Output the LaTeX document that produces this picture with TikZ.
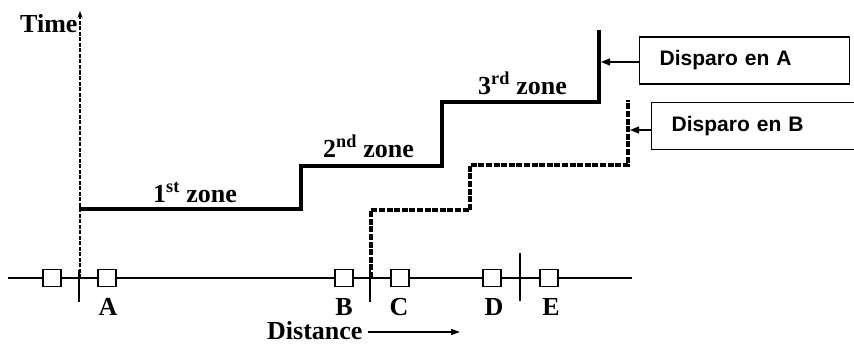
\documentclass[tikz,border=0pt]{standalone}
\usepackage{fontspec}
\setmainfont{Liberation Serif}
\setsansfont{Liberation Sans}
\usetikzlibrary{arrows.meta}
\begin{document}
\begin{tikzpicture}[x=1pt,y=-1pt,
  lbl/.style={font=\fontsize{26}{30}\selectfont\bfseries, inner sep=0pt},
  axisline/.style={line width=1.8pt},
  tickline/.style={line width=1.8pt},
  timeaxis/.style={line width=1.6pt, dash pattern=on 4pt off 1.5pt},
  stepA/.style={line width=3.8pt, line join=miter, line cap=butt},
  stepB/.style={line width=3.8pt, line join=miter, dash pattern=on 6pt off 1.6pt},
  sq/.style={draw, line width=1.8pt, fill=white, minimum width=18pt, minimum height=17pt, inner sep=0pt},
  dispbox/.style={draw, line width=1.4pt, font=\sffamily\bfseries\fontsize{21}{25}\selectfont,
     align=left, inner xsep=20pt, anchor=west, minimum height=47pt},
  ptr/.style={line width=1.2pt, -{Triangle[length=9pt,width=7pt]}},
  arr/.style={line width=1.5pt, -{Triangle[length=9pt,width=6pt]}}
]
\useasboundingbox (0,0) rectangle (854,345);
\clip (0,0) rectangle (854,345);

% horizontal distance axis
\coordinate (ax0) at (8,278);
\coordinate (ax1) at (632,278);
\draw[axisline] (ax0) -- (ax1);

% ticks
\coordinate (k1a) at (79,270); \coordinate (k1b) at (79,302);
\coordinate (k2a) at (370,270); \coordinate (k2b) at (370,302);
\coordinate (k3a) at (520,253); \coordinate (k3b) at (520,301);
\draw[tickline] (k1a) -- (k1b);
\draw[tickline] (k2a) -- (k2b);
\draw[tickline] (k3a) -- (k3b);

% time axis
\coordinate (t0) at (80,278);
\coordinate (t1) at (80,11);
\draw[timeaxis, -{Stealth[length=7pt,width=5pt]}] (t0) -- (t1);
\node[lbl, anchor=base west] (time) at (20,33) {Time};

% zone A step line
\coordinate (a0) at (79,209);
\coordinate (a1) at (301,209);
\coordinate (a2) at (301,166);
\coordinate (a3) at (442,166);
\coordinate (a4) at (442,102);
\coordinate (a5) at (599,102);
\coordinate (a6) at (599,30);
\draw[stepA] (a0) -- (a1) -- (a2) -- (a3) -- (a4) -- (a5) -- (a6);

% zone B step line (dashed)
\coordinate (b0) at (371,278);
\coordinate (b1) at (371,210);
\coordinate (b2) at (470,210);
\coordinate (b3) at (470,165);
\coordinate (b4) at (628,165);
\coordinate (b5) at (628,100);
\draw[stepB] (b0) -- (b1) -- (b2) -- (b3) -- (b4) -- (b5);

% zone labels
\node[lbl, anchor=base west] (z1) at (153,202) {1\textsuperscript{st} zone};
\node[lbl, anchor=base west] (z2) at (323,157) {2\textsuperscript{nd} zone};
\node[lbl, anchor=base west] (z3) at (478,94) {3\textsuperscript{rd} zone};

% squares
\node[sq] (s0) at (52,278) {};
\node[sq] (sA) at (107,278) {};
\node[sq] (sB) at (344,278) {};
\node[sq] (sC) at (400,278) {};
\node[sq] (sD) at (492,278) {};
\node[sq] (sE) at (549,278) {};

% letter labels
\node[lbl, anchor=base] (lA) at (108,315) {A};
\node[lbl, anchor=base] (lB) at (344,315) {B};
\node[lbl, anchor=base] (lC) at (399,315) {C};
\node[lbl, anchor=base] (lD) at (494,315) {D};
\node[lbl, anchor=base] (lE) at (551,315) {E};

% distance
\node[lbl, anchor=base west] (dist) at (267,339) {Distance};
\coordinate (de) at (460,332);
\draw[arr] (dist.east |- de) ++(5,0) -- (de);

% disparo boxes
\node[dispbox, text width=170pt] (boxA) at (639,60.5) {Disparo en A};
\node[dispbox, text width=200pt] (boxB) at (651,126) {Disparo en B};
\coordinate (pa) at (601,62);
\coordinate (pb) at (630,130);
\draw[ptr] (boxA.west |- pa) -- (pa);
\draw[ptr] (boxB.west |- pb) -- (pb);
\end{tikzpicture}
\end{document}
